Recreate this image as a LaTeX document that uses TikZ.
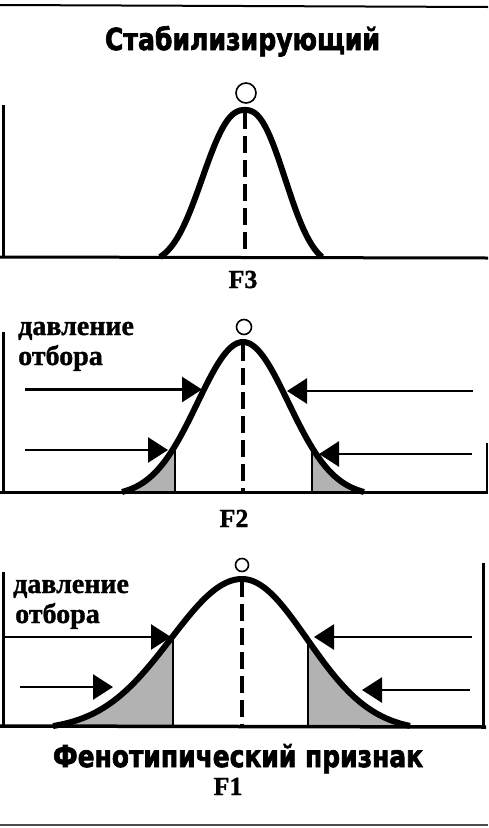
\documentclass[tikz,border=0pt]{standalone}
\usepackage{fontspec}
\setmainfont{Liberation Serif}[BoldFeatures={FakeBold=1.2}]
\newfontfamily\headfont{DejaVu Sans}[BoldFeatures={FakeBold=2.5}]
\usetikzlibrary{arrows.meta}
\begin{document}
\begin{tikzpicture}[x=1pt,y=-1pt,
  declare function={
    hTL(\u)=147*(exp(0-pow((abs(\u)+0.01)/53.5,2.4))-0.048)/0.952;
    hTR(\u)=147*(exp(0-pow((abs(\u)+0.01)/50.5,2.4))-0.064)/0.936;
    hM(\u)=150*(exp(0-0.5*(\u/45.5)*(\u/45.5))-0.029)/0.971;
    hBL(\u)=147*(exp(0-0.5*(\u/71)*(\u/71))-0.029)/0.971;
    hBR(\u)=147*(exp(0-0.5*(\u/65)*(\u/65))-0.035)/0.965;
  }]
\tikzset{
 curve/.style={line width=6pt, line join=round},
 axisline/.style={line width=3pt},
 shadefill/.style={fill=black!30},
 cutline/.style={line width=2.5pt},
 medianline/.style={line width=3.3pt, dash pattern=on 17pt off 7pt},
 peakmark/.style={line width=1.6pt},
 pressure/.style={line width=2.6pt, -{Triangle[length=20pt,width=25pt]}},
 lbl/.style={font=\fontsize{28}{30}\selectfont\bfseries, inner sep=0pt, anchor=base west},
 flbl/.style={font=\fontsize{26}{28}\selectfont\bfseries, inner sep=0pt, anchor=base},
}
\useasboundingbox (0,0) rectangle (488,828);

% frame lines
\draw[line width=2pt] (0,5) -- (488,7);
\draw[line width=1.5pt, black!70] (0,825) -- (488,825);

% ---------------- title
\node[inner sep=0pt, anchor=base] (title) at (242.5,50)
  {\resizebox{275pt}{24pt}{\headfont\bfseries Стабилизирующий}};

% ---------------- top panel (F3)
\draw[axisline] (0,257) -- (488,258);
\draw[axisline] (3,105) -- (3,257);
\draw[medianline] (245,112) -- (245,257);
\draw[curve] plot[domain=-85:0,samples=60] ({245+\x},{257-hTL(\x)})
   -- plot[domain=0:77,samples=60] ({245+\x},{257-hTR(\x)});
\draw[peakmark] (246,93) circle[radius=10pt];
\node[flbl] (f3) at (243,288) {F3};

% ---------------- middle panel (F2)
\fill[shadefill] plot[domain=-121:-68,samples=30] ({243+\x},{492-hM(\x)}) -- (175,492) -- cycle;
\fill[shadefill] (312,492) -- plot[domain=69:121,samples=30] ({243+\x},{492-hM(\x)}) -- cycle;
\draw[cutline] (175,{492-hM(-68)}) -- (175,492);
\draw[cutline] (312,{492-hM(69)}) -- (312,492);
\draw[axisline] (0,492) -- (488,492);
\draw[axisline] (3,332) -- (3,492);
\draw[line width=2pt] (487,443) -- (487,492);
\draw[medianline] (243,344) -- (243,492);
\draw[curve] plot[domain=-121:121,samples=121] ({243+\x},{492-hM(\x)});
\draw[peakmark] (244,327) circle[radius=7.5pt];
\node[lbl] (d2) at (18,335) {давление};
\node[lbl] (o2) at (18,365) {отбора};
\coordinate (m1s) at (25,389.5);  \coordinate (m1t) at (202,389.5);
\coordinate (m2s) at (473,391);   \coordinate (m2t) at (287,391);
\coordinate (m3s) at (25,450);    \coordinate (m3t) at (168,450);
\coordinate (m4s) at (472,454);   \coordinate (m4t) at (319,454);
\draw[pressure] (m1s) -- (m1t);
\draw[pressure] (m2s) -- (m2t);
\draw[pressure] (m3s) -- (m3t);
\draw[pressure] (m4s) -- (m4t);
\node[flbl] (f2) at (234,527) {F2};

% ---------------- bottom panel (F1)
\fill[shadefill] plot[domain=-189:-69,samples=50] ({242+\x},{726-hBL(\x)}) -- (173,726) -- cycle;
\fill[shadefill] (308,726) -- plot[domain=66:168,samples=50] ({242+\x},{726-hBR(\x)}) -- cycle;
\draw[cutline] (173,{726-hBL(-69)}) -- (173,726);
\draw[cutline] (308,{726-hBR(66)}) -- (308,726);
\draw[line width=3.5pt] (0,726) -- (486,727);
\draw[axisline] (3,572) -- (3,727);
\draw[axisline] (483,563) -- (483,727);
\draw[medianline] (242,580) -- (242,726);
\draw[curve] plot[domain=-189:0,samples=80] ({242+\x},{726-hBL(\x)})
   -- plot[domain=0:168,samples=80] ({242+\x},{726-hBR(\x)});
\draw[peakmark] (242,565) circle[radius=6.5pt];
\node[lbl] (d1) at (13,593) {давление};
\node[lbl] (o1) at (15,623) {отбора};
\coordinate (b1s) at (5,637);    \coordinate (b1t) at (171,637);
\coordinate (b2s) at (20,687);   \coordinate (b2t) at (113,687);
\coordinate (b3s) at (472,637);  \coordinate (b3t) at (314,637);
\coordinate (b4s) at (470,690);  \coordinate (b4t) at (362,690);
\draw[pressure] (b1s) -- (b1t);
\draw[pressure] (b2s) -- (b2t);
\draw[pressure] (b3s) -- (b3t);
\draw[pressure] (b4s) -- (b4t);
\node[inner sep=0pt, anchor=base] (axis) at (238,767)
  {\resizebox{370pt}{23pt}{\headfont\bfseries Фенотипический признак}};
\node[flbl] (f1) at (228,795) {F1};
\end{tikzpicture}
\end{document}
